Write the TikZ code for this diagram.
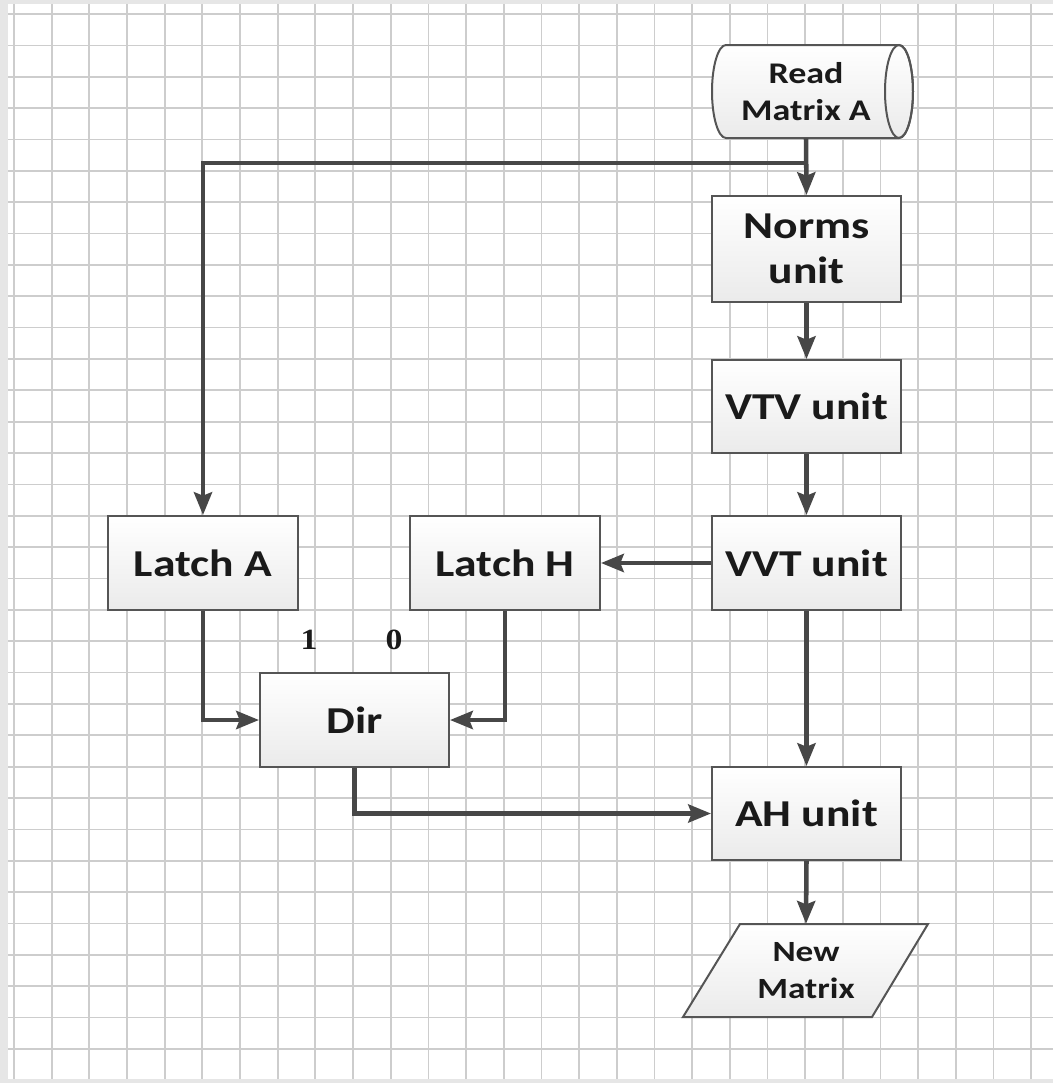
\documentclass[tikz,border=0pt]{standalone}
\usepackage{fontspec}
\setmainfont{Carlito}[FakeStretch=1.2]
\newfontfamily\digitfont{Liberation Serif}[FakeStretch=1.15]
\usetikzlibrary{arrows.meta}
\definecolor{lineC}{HTML}{474747}
\definecolor{bordC}{HTML}{555555}
\definecolor{gridC}{HTML}{CDCDCD}
\definecolor{txtC}{HTML}{1A1A1A}
\definecolor{edgeC}{HTML}{E6E6E6}
\begin{document}
\begin{tikzpicture}[x=0.75pt,y=-0.75pt,
  unitbox/.style={draw=bordC, line width=1.5pt, top color=white, bottom color=black!8,
    minimum width=141.75pt, inner sep=0pt, align=center, text=txtC,
    font=\fontsize{28.5pt}{34pt}\selectfont\bfseries},
  iotext/.style={inner sep=0pt, align=center, text=txtC, minimum height=69.75pt,
    font=\fontsize{22.5pt}{27.5pt}\selectfont\bfseries},
  ioshape/.style={draw=bordC, line width=1.5pt, top color=white, bottom color=black!8},
  flow/.style={draw=lineC, line width=3.4pt, -{Stealth[length=17pt,width=13.5pt,inset=2.5pt]}},
  sellabel/.style={inner sep=0pt, text=txtC, font=\fontsize{22pt}{26pt}\selectfont\digitfont\bfseries},
  gridline/.style={draw=gridC, line width=1.3pt}
]
\useasboundingbox (0,0) rectangle (1053,1083);
% background and grid
\fill[edgeC] (0,0) rectangle (1053,1083);
\fill[white] (8,4) rectangle (1053,1079);
\foreach \k in {0,...,27} { \draw[gridline] ({14+37.67*\k},4) -- ({14+37.67*\k},1079); }
\foreach \k in {0,...,33} { \draw[gridline] (8,{14+31.36*\k}) -- (1053,{14+31.36*\k}); }

% Read Matrix A (horizontal cylinder)
\path[ioshape] (726,45) -- (899,45)
  arc[start angle=-90, end angle=90, x radius=14, y radius=46.5]
  -- (726,138)
  arc[start angle=90, end angle=270, x radius=14, y radius=46.5] -- cycle;
\draw[draw=bordC, line width=1.5pt] (899,91.5) ellipse[x radius=14, y radius=46.5];
\node[iotext] (rd) at (806,91.5) {Read\\Matrix A};

% unit boxes
\node[unitbox, minimum height=79.5pt] (norms) at (806.5,249) {Norms\\unit};
\node[unitbox, minimum height=69.75pt] (vtv) at (806.5,406.5) {VTV unit};
\node[unitbox, minimum height=70.5pt] (vvt) at (806.5,563) {VVT unit};
\node[unitbox, minimum height=69.75pt] (ah) at (806.5,813.5) {AH unit};
\node[unitbox, minimum height=70.5pt, minimum width=142.5pt] (la) at (203,563) {Latch A};
\node[unitbox, minimum height=70.5pt, minimum width=142.5pt] (lh) at (505,563) {Latch H};
\node[unitbox, minimum height=70.5pt] (dir) at (354.5,720) {Dir};

% New Matrix (parallelogram)
\path[ioshape] (740,924) -- (928,924) -- (872,1017) -- (683,1017) -- cycle;
\node[iotext, font=\fontsize{22pt}{28pt}\selectfont\bfseries] (nm) at (806,970.5) {New\\Matrix};

% selector labels
\node[sellabel] (one) at (309,640) {1};
\node[sellabel] (zero) at (394,640) {0};

% connectors
\coordinate (j) at (806,163);
\draw[flow] (rd.south) -- (norms.north);
\draw[flow] (j) -| (la.north);
\draw[flow] (norms.south) -- (vtv.north);
\draw[flow] (vtv.south) -- (vvt.north);
\draw[flow] (vvt.south) -- (ah.north);
\draw[flow] (ah.south) -- (nm.north);
\draw[flow] (vvt.west) -- (lh.east);
\draw[flow] (la.south) |- (dir.west);
\draw[flow] (lh.south) |- (dir.east);
\draw[flow] (dir.south) |- (ah.west);
\end{tikzpicture}
\end{document}
